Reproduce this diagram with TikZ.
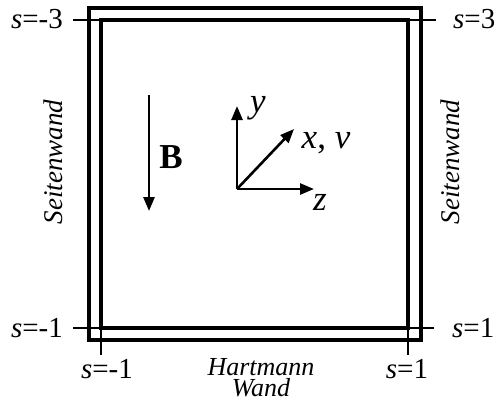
\documentclass[tikz,border=0pt]{standalone}
\usepackage{fontspec}
\setmainfont{Liberation Serif}
\usetikzlibrary{arrows.meta}
\tikzset{
  wall/.style={line width=3.6pt},
  tick/.style={line width=2.2pt},
  vec/.style={line width=2.6pt,-{Triangle[length=14pt,width=11pt]}},
  lbl/.style={inner sep=0pt,font=\fontsize{29}{31}\selectfont},
  wlbl/.style={inner sep=0pt,font=\fontsize{27}{30}\selectfont\itshape},
  hwlbl/.style={inner sep=0pt,font=\fontsize{26}{21}\selectfont\itshape},
  axlbl/.style={inner sep=0pt,font=\fontsize{35}{37}\selectfont},
}
\begin{document}
\begin{tikzpicture}[x=1pt,y=-1pt]
	\useasboundingbox (0,0) rectangle (494,400);
	
	\draw[wall] (89,8) rectangle (421,340);
	\draw[wall] (101,20) rectangle (408,328);
	
	\draw[tick] (73,20)--(101,20);
	\draw[tick] (408,20)--(436,20);
	\draw[tick] (73,328)--(101,328);
	\draw[tick] (408,328)--(434,328);
	\draw[tick] (101,328)--(101,355);
	\draw[tick] (408,328)--(408,355);
	
	\node[lbl, anchor=base east] (sl3) at (63,28) {\textit{s}=-3};
	\node[lbl, anchor=base west] (sr3) at (453,28) {\textit{s}=3};
	\node[lbl, anchor=base east] (sl1) at (63,337) {\textit{s}=-1};
	\node[lbl, anchor=base west] (sr1) at (452,337) {\textit{s}=1};
	\node[lbl, anchor=base] (sb1) at (107,378) {\textit{s}=-1};
	\node[lbl, anchor=base] (sb2) at (407,378) {\textit{s}=1};
	\node[hwlbl, align=center, anchor=north] (hw) at (261,358) {Hartmann\\Wand};
	
	\node[wlbl, rotate=90] (swl) at (53,162) {Seitenwand};
	\node[wlbl, rotate=90] (swr) at (450,162) {Seitenwand};
	
	\coordinate (btop) at (149,95);
	\coordinate (bbot) at (149,211);
	\draw[vec] (btop)--(bbot);
	\node[axlbl, anchor=base] (bl) at (171,168) {\textbf{B}};
	
	\coordinate (o) at (237,189);
	\coordinate (ytip) at (237,106);
	\coordinate (ztip) at (314,189);
	\coordinate (xtip) at (294,129);
	\draw[vec] (o)--(ytip);
	\draw[vec] (o)--(ztip);
	\draw[vec] (o)--(xtip);
	\node[axlbl, anchor=base] (yl) at (258,112) {\textit{y}};
	\node[axlbl, anchor=base] (xl) at (326,148) {\textit{x}, \textit{v}};
	\node[axlbl, anchor=base] (zl) at (320,210) {\textit{z}};
\end{tikzpicture}
\end{document}
